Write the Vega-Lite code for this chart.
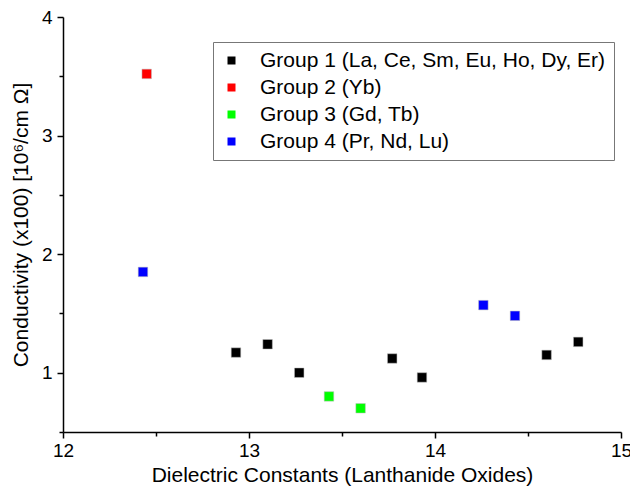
{
  "$schema": "https://vega.github.io/schema/vega-lite/v6.json",
  "autosize": "none",
  "width": 558,
  "height": 415,
  "padding": {"left": 63, "top": 17, "right": 9, "bottom": 59},
  "background": "white",
  "config": {
    "view": {"stroke": null},
    "font": "Liberation Sans",
    "axis": {"grid": false, "domainColor": "black", "tickColor": "black", "labelColor": "black", "titleColor": "black", "labelFont": "Liberation Sans", "titleFont": "Liberation Sans", "titleFontWeight": "normal", "domainWidth": 1.5, "tickWidth": 1.5}
  },
  "data": {
    "values": [
      {"dielectric": 12.43, "conductivity": 1.85, "group": "Group 4 (Pr, Nd, Lu)"},
      {"dielectric": 12.45, "conductivity": 3.52, "group": "Group 2 (Yb)"},
      {"dielectric": 12.93, "conductivity": 1.17, "group": "Group 1 (La, Ce, Sm, Eu, Ho, Dy, Er)"},
      {"dielectric": 13.10, "conductivity": 1.24, "group": "Group 1 (La, Ce, Sm, Eu, Ho, Dy, Er)"},
      {"dielectric": 13.27, "conductivity": 1.00, "group": "Group 1 (La, Ce, Sm, Eu, Ho, Dy, Er)"},
      {"dielectric": 13.43, "conductivity": 0.80, "group": "Group 3 (Gd, Tb)"},
      {"dielectric": 13.60, "conductivity": 0.70, "group": "Group 3 (Gd, Tb)"},
      {"dielectric": 13.77, "conductivity": 1.12, "group": "Group 1 (La, Ce, Sm, Eu, Ho, Dy, Er)"},
      {"dielectric": 13.93, "conductivity": 0.96, "group": "Group 1 (La, Ce, Sm, Eu, Ho, Dy, Er)"},
      {"dielectric": 14.26, "conductivity": 1.57, "group": "Group 4 (Pr, Nd, Lu)"},
      {"dielectric": 14.43, "conductivity": 1.48, "group": "Group 4 (Pr, Nd, Lu)"},
      {"dielectric": 14.60, "conductivity": 1.15, "group": "Group 1 (La, Ce, Sm, Eu, Ho, Dy, Er)"},
      {"dielectric": 14.77, "conductivity": 1.26, "group": "Group 1 (La, Ce, Sm, Eu, Ho, Dy, Er)"}
    ]
  },
  "mark": {"type": "square", "size": 90, "opacity": 1, "stroke": "#bbbbbb", "strokeWidth": 0.5},
  "encoding": {
    "x": {
      "field": "dielectric", "type": "quantitative",
      "scale": {"domain": [12, 15], "nice": false, "zero": false},
      "axis": {
        "title": "Dielectric Constants (Lanthanide Oxides)",
        "values": [12, 12.5, 13, 13.5, 14, 14.5, 15],
        "labelExpr": "datum.value % 1 === 0 ? '' + datum.value : ''",
        "tickSize": {"condition": {"test": "datum.value % 1 === 0", "value": 6}, "value": 4},
        "labelFontSize": 19, "titleFontSize": 21, "labelPadding": 3, "titlePadding": 4,
        "labelFlush": false, "labelOverlap": false
      }
    },
    "y": {
      "field": "conductivity", "type": "quantitative",
      "scale": {"domain": [0.5, 4], "nice": false, "zero": false},
      "axis": {
        "title": "Conductivity (x100)  [10⁶/cm Ω]",
        "values": [0.5, 1, 1.5, 2, 2.5, 3, 3.5, 4],
        "labelExpr": "datum.value % 1 === 0 ? '' + datum.value : ''",
        "tickSize": {"condition": {"test": "datum.value % 1 === 0", "value": 6}, "value": 4},
        "labelFontSize": 19, "titleFontSize": 21, "labelPadding": 5, "titlePadding": 10,
        "labelFlush": false, "labelOverlap": false
      }
    },
    "fill": {
      "field": "group", "type": "nominal",
      "scale": {
        "domain": ["Group 1 (La, Ce, Sm, Eu, Ho, Dy, Er)", "Group 2 (Yb)", "Group 3 (Gd, Tb)", "Group 4 (Pr, Nd, Lu)"],
        "range": ["#000000", "#ff0000", "#00ff00", "#0000ff"]
      },
      "legend": {
        "title": null,
        "orient": "none",
        "legendX": 150,
        "legendY": 25,
        "padding": 8,
        "strokeColor": "#777777",
        "fillColor": "white",
        "symbolType": "square",
        "symbolSize": 64,
        "symbolStrokeWidth": 0,
        "labelFontSize": 21,
        "labelFont": "Liberation Sans",
        "labelColor": "black",
        "labelOffset": 18,
        "rowPadding": 5,
        "labelLimit": 500,
        "offset": 0
      }
    }
  }
}
